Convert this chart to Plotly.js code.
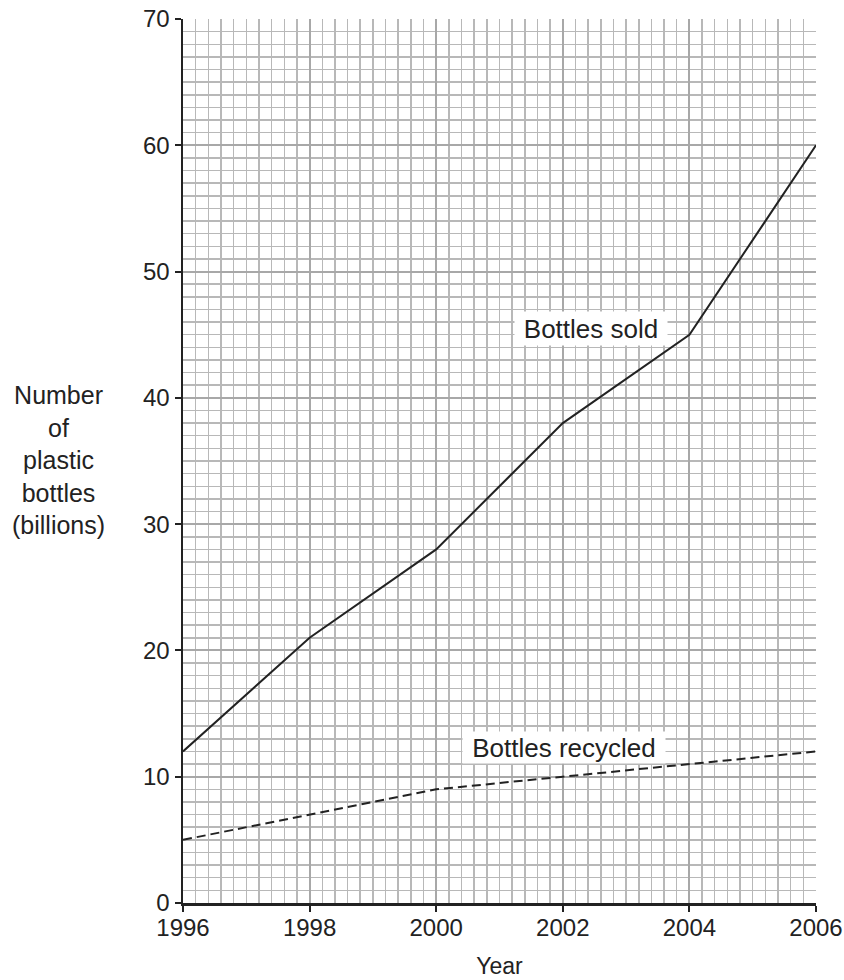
<!DOCTYPE html>
<html>
<head>
<meta charset="utf-8">
<script src="https://cdn.plot.ly/plotly-3.0.1.min.js"></script>
<style>html,body{margin:0;padding:0;background:#fff;}#chart{width:844px;height:980px;}</style>
</head>
<body>
<div id="chart"></div>
<script>
const years = [1996, 1998, 2000, 2002, 2004, 2006];
const bottlesSold = [12, 21, 28, 38, 45, 60];
const bottlesRecycled = [5, 7, 9, 10, 11, 12];
const xTicks = [1996, 1998, 2000, 2002, 2004, 2006];
const yTicks = [0, 10, 20, 30, 40, 50, 60, 70];

const font = 'Liberation Sans, Arial, sans-serif';
const traces = [
  {x: years, y: bottlesSold, type: 'scatter', mode: 'lines', name: 'Bottles sold',
   line: {color: '#222', width: 2}},
  {x: years, y: bottlesRecycled, type: 'scatter', mode: 'lines', name: 'Bottles recycled',
   line: {color: '#222', width: 2, dash: '9px,5px'}}
];
const layout = {
  width: 844, height: 980,
  margin: {l: 183, r: 28, t: 19, b: 77},
  paper_bgcolor: '#fff', plot_bgcolor: '#fff',
  showlegend: false,
  font: {family: font, size: 24, color: '#222'},
  xaxis: {
    range: [1996, 2006], tickvals: xTicks, ticktext: xTicks.map(String),
    showgrid: true, gridcolor: '#a8a8a8', gridwidth: 2,
    minor: {dtick: 0.2, tick0: 1996, showgrid: true, gridcolor: '#b8b8b8', gridwidth: 1.5, ticks: ''},
    showline: true, linecolor: '#222', linewidth: 2.5,
    ticks: 'outside', ticklen: 6, tickwidth: 2, tickcolor: '#222', ticklabelstandoff: -4,
    zeroline: false, tickfont: {family: font, size: 24, color: '#222'},
    title: {text: 'Year', font: {family: font, size: 23, color: '#222'}, standoff: 18}
  },
  yaxis: {
    range: [0, 70], tickvals: yTicks, ticktext: yTicks.map(String),
    showgrid: true, gridcolor: '#a8a8a8', gridwidth: 2,
    minor: {dtick: 1, tick0: 0, showgrid: true, gridcolor: '#b8b8b8', gridwidth: 1.5, ticks: ''},
    showline: true, linecolor: '#222', linewidth: 2.5,
    ticks: 'outside', ticklen: 6, tickwidth: 2, tickcolor: '#222',
    zeroline: false, tickfont: {family: font, size: 24, color: '#222'}
  },
  annotations: [
    {x: 2002.45, y: 45.49, xref: 'x', yref: 'y', text: 'Bottles sold', showarrow: false,
     bgcolor: '#fff', borderpad: 0, width: 152, height: 33, font: {family: font, size: 26, color: '#222'}},
    {x: 2002.02, y: 12.31, xref: 'x', yref: 'y', text: 'Bottles recycled', showarrow: false,
     bgcolor: '#fff', borderpad: 0, width: 202, height: 31, font: {family: font, size: 26, color: '#222'}},
    {x: 0, y: 0, xref: 'paper', yref: 'paper', text: 'Number<br>of<br>plastic<br>bottles<br>(billions)',
     showarrow: false, align: 'center', xanchor: 'center', yanchor: 'middle',
     font: {family: font, size: 25, color: '#222'}}
  ]
};
// place y-axis title block (pixel centre 58, 460) in paper coordinates
const pw = 844 - 183 - 28, ph = 980 - 19 - 77;
layout.annotations[2].x = (58 - 183) / pw;
layout.annotations[2].y = (980 - 77 - 460) / ph;
Plotly.newPlot('chart', traces, layout, {displayModeBar: false, staticPlot: true});
</script>
</body>
</html>
